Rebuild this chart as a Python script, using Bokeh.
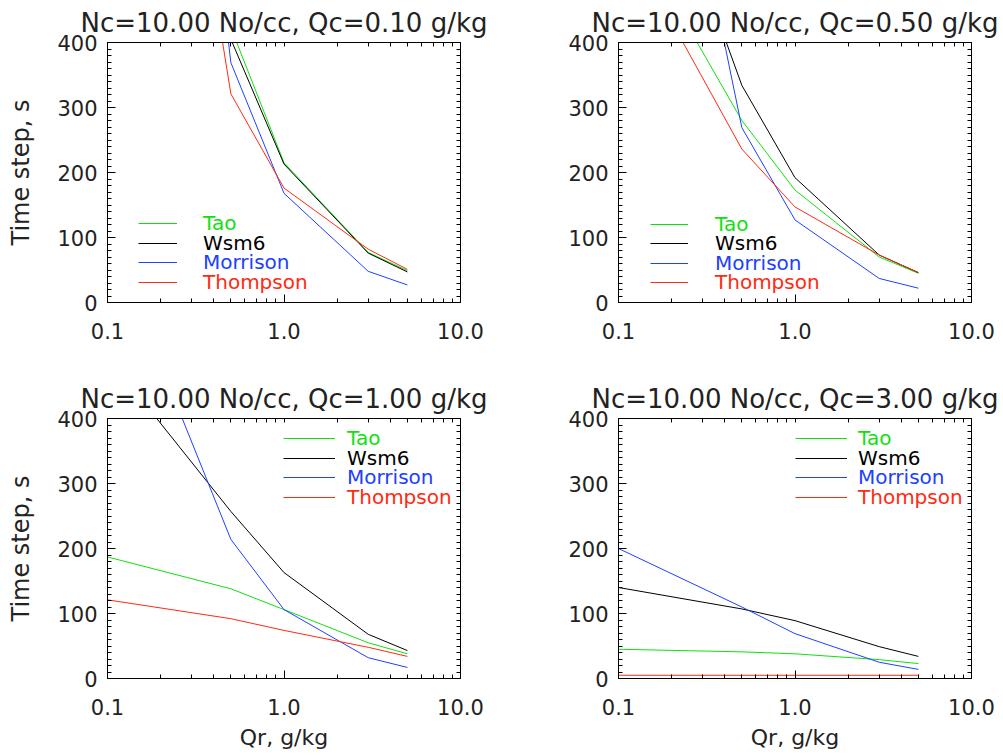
from bokeh.plotting import figure
from bokeh.models import (Range1d, LinearAxis, LogAxis, SingleIntervalTicker,
                          FixedTicker, PrintfTickFormatter, Legend, LegendItem)
from bokeh.layouts import column, row
from bokeh.embed import file_html
from bokeh.resources import INLINE

# ---------------- data ----------------
qr = [0.1, 0.5, 1.0, 3.0, 5.0]          # Qr, g/kg
qc_values = ["0.10", "0.50", "1.00", "3.00"]
nc_value = "10.00"
schemes = ["Tao", "Wsm6", "Morrison", "Thompson"]

tao_qc010 = [1600, 423, 215, 77, 49]
wsm6_qc010 = [1550, 405, 213, 76, 47]
morrison_qc010 = [2000, 369, 168, 48, 27]
thompson_qc010 = [1500, 321, 176, 82, 51]

tao_qc050 = [611, 280, 173, 70, 45]
wsm6_qc050 = [859, 334, 192, 73, 46]
morrison_qc050 = [1192, 269, 127, 37, 22]
thompson_qc050 = [580, 236, 147, 73, 46]

tao_qc100 = [187, 138, 106, 55, 38]
wsm6_qc100 = [495, 257, 163, 68, 43]
morrison_qc100 = [686, 214, 106, 32, 17]
thompson_qc100 = [121, 92, 74, 48, 34]

tao_qc300 = [45, 41, 38, 29, 23]
wsm6_qc300 = [140, 107, 89, 49, 34]
morrison_qc300 = [200, 110, 69, 25, 14]
thompson_qc300 = [5, 5, 5, 5, 5]

panel_data = [
    [tao_qc010, wsm6_qc010, morrison_qc010, thompson_qc010],
    [tao_qc050, wsm6_qc050, morrison_qc050, thompson_qc050],
    [tao_qc100, wsm6_qc100, morrison_qc100, thompson_qc100],
    [tao_qc300, wsm6_qc300, morrison_qc300, thompson_qc300],
]

x_major_ticks = [0.1, 1, 10]
x_minor_ticks = [0.2, 0.3, 0.4, 0.5, 0.6, 0.7, 0.8, 0.9, 2, 3, 4, 5, 6, 7, 8, 9]
y_minor_ticks = list(range(0, 401, 10))

# ---------------- style ----------------
FONT = "DejaVu Sans"
TXT = "#222222"
colors = ["#10e010", "#000000", "#2040ff", "#ff2a10"]

FRAME_W, FRAME_H = 353, 260

# border sizes: (left, right, top, bottom)
borders = [(107, 30, 42, 50), (128, 30, 42, 50), (107, 30, 66, 76), (128, 30, 66, 76)]
# legend: x offset in frame, bottom offsets per row, glyph width, standoff
legend_cfg = [
    (31, [66.7, 47.2, 27.7, 7.7], 39, 26),
    (32, [66.4, 47.4, 27.4, 8.0], 38, 27),
    (176, [227.6, 208.0, 188.6, 169.3], 52, 12),
    (177, [227.6, 208.0, 188.6, 169.3], 52, 11),
]


def style_axis(ax, is_x):
    ax.axis_line_color = "black"
    ax.major_tick_line_color = "black"
    ax.minor_tick_line_color = "black"
    ax.major_tick_in = 8
    ax.major_tick_out = 0
    ax.minor_tick_in = 4
    ax.minor_tick_out = 0
    ax.major_label_text_font = FONT
    ax.major_label_text_color = TXT
    ax.major_label_text_font_size = "21px"
    ax.major_label_standoff = 20 if is_x else 10
    ax.axis_label_text_font = FONT
    ax.axis_label_text_font_style = "normal"
    ax.axis_label_text_font_size = "22px" if is_x else "24px"
    ax.axis_label_text_color = TXT


def mirror_axis(ax):
    ax.axis_line_color = "black"
    ax.minor_tick_line_color = "black"
    ax.major_tick_in = 0
    ax.major_tick_out = 0
    ax.minor_tick_in = 4
    ax.minor_tick_out = 0
    ax.major_label_standoff = 0


def make_panel(i):
    bl, br, bt, bb = borders[i]
    p = figure(frame_width=FRAME_W, frame_height=FRAME_H,
               x_axis_type="log", x_range=Range1d(0.1, 10), y_range=Range1d(0, 400),
               output_backend="svg", toolbar_location=None,
               min_border_left=bl, min_border_right=br,
               min_border_top=bt, min_border_bottom=bb,
               x_axis_location=None, y_axis_location=None)
    p.xgrid.visible = False
    p.ygrid.visible = False
    p.outline_line_color = "black"
    p.background_fill_color = "white"
    p.border_fill_color = "white"

    xt = FixedTicker(ticks=x_major_ticks, minor_ticks=x_minor_ticks)
    yt = SingleIntervalTicker(interval=100, num_minor_ticks=10)

    xb = LogAxis(ticker=xt, formatter=PrintfTickFormatter(format="%.1f"))
    style_axis(xb, True)
    if i >= 2:
        xb.axis_label = "Qr, g/kg"
        xb.axis_label_standoff = 7
    p.add_layout(xb, "below")

    xa = LogAxis(ticker=FixedTicker(ticks=[], minor_ticks=x_major_ticks + x_minor_ticks))
    mirror_axis(xa)
    p.add_layout(xa, "above")

    yl = LinearAxis(ticker=yt)
    style_axis(yl, False)
    if i % 2 == 0:
        yl.axis_label = "Time step, s"
        yl.axis_label_standoff = 19
    p.add_layout(yl, "left")

    yr = LinearAxis(ticker=FixedTicker(ticks=[], minor_ticks=y_minor_ticks))
    mirror_axis(yr)
    p.add_layout(yr, "right")

    p.title.text = "Nc=%s No/cc, Qc=%s g/kg" % (nc_value, qc_values[i])
    p.title.align = "center"
    p.title.text_font = FONT
    p.title.text_font_size = "26px"
    p.title.text_font_style = "normal"
    p.title.text_color = TXT
    p.title.standoff = 10

    lx, lys, gw, lst = legend_cfg[i]
    for k, name in enumerate(schemes):
        r = p.line(qr, panel_data[i][k], line_color=colors[k], line_width=1)
        lg = Legend(items=[LegendItem(label=name, renderers=[r])],
                    location=(lx, lys[k]), glyph_width=gw, glyph_height=24,
                    label_height=24, label_standoff=lst, padding=0, margin=0,
                    spacing=0, border_line_color=None, background_fill_alpha=0,
                    label_text_font=FONT, label_text_font_size="20px",
                    label_text_color=colors[k], label_text_baseline="alphabetic")
        p.add_layout(lg)
    return p


panels = [make_panel(i) for i in range(4)]
layout = column(row(panels[0], panels[1]), row(panels[2], panels[3]))

open("out.html", "w").write(file_html(layout, INLINE))
